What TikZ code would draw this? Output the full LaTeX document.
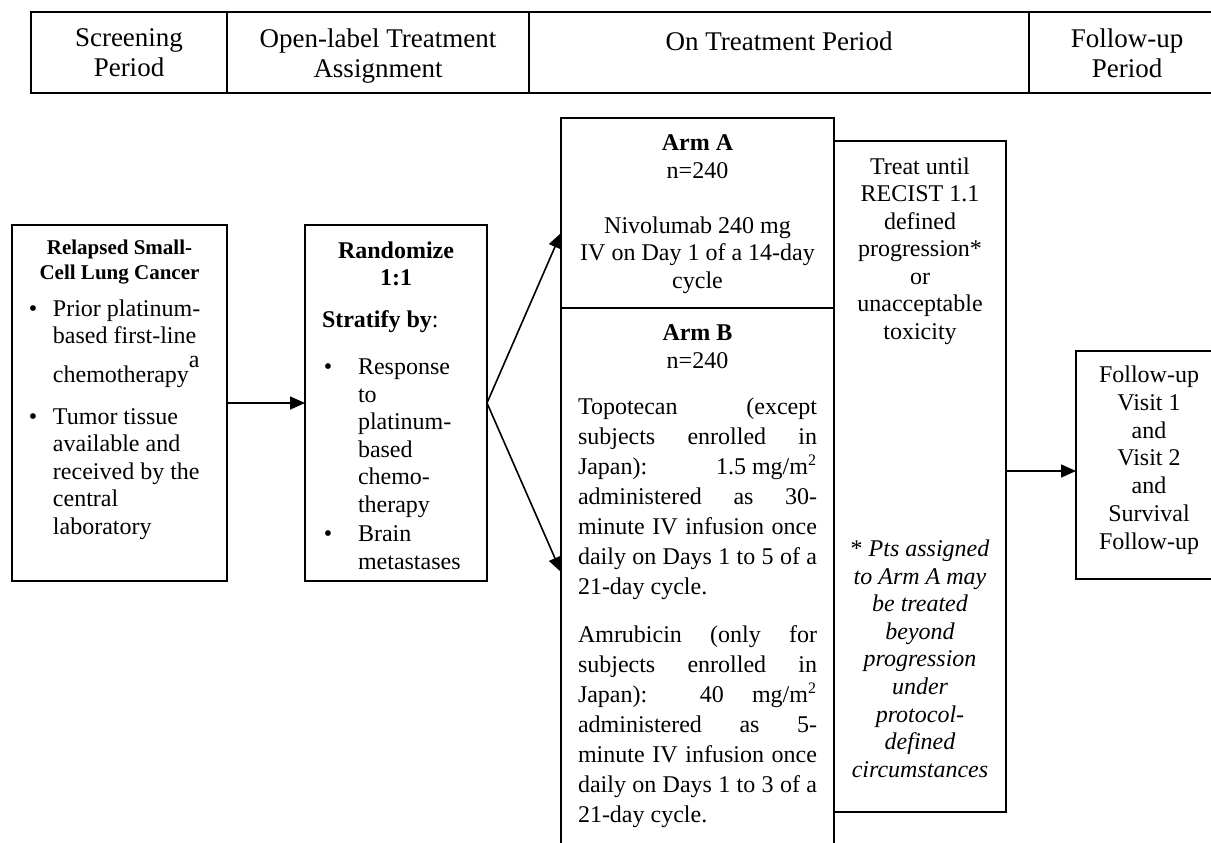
\documentclass[tikz,border=0pt]{standalone}
\usepackage{fontspec}
\setmainfont{Liberation Serif}
\usetikzlibrary{arrows.meta,fit,calc}
\newcommand\mybul{\llap{\textbullet\hspace{7.9pt}}}
\newcommand\stbul{\hspace*{18pt}\llap{\textbullet\hspace{12.9pt}}}
\newcommand\ind{\hspace*{18pt}}
\newcommand\jl[1]{\makebox[119.5pt][s]{#1}}
\tikzset{
  box/.style={draw, line width=1pt, inner sep=0pt, outer sep=0pt},
  arr/.style={line width=0.8pt, -{Triangle[length=7.5pt,width=6.5pt]}},
  txt/.style={inner sep=0pt, outer sep=0pt, anchor=north, align=center, yshift=-2pt,
    font=\fontsize{12}{13.75}\selectfont, execute at begin node={\strut}},
  hdtxt/.style={txt, font=\fontsize{13.5}{15}\selectfont},
}
\begin{document}
\begin{tikzpicture}[x=0.5pt,y=-0.5pt]
\useasboundingbox (0,0) rectangle (1211,842);
\fill[white] (0,0) rectangle (1211,842);
\clip (0,0) rectangle (1211,842);

% header table
\node[box, fit={(31,12)(1226,93)}] (hdr) {};
\draw[line width=1pt] ($(hdr.north west)+(196,0)$) -- ($(hdr.south west)+(196,0)$);
\draw[line width=1pt] ($(hdr.north west)+(498,0)$) -- ($(hdr.south west)+(498,0)$);
\draw[line width=1pt] ($(hdr.north west)+(997.5,0)$) -- ($(hdr.south west)+(997.5,0)$);
\node[hdtxt] (h1) at (129,25) {Screening\\Period};
\node[hdtxt] (h2) at (378,25) {Open-label Treatment\\Assignment};
\node[hdtxt] (h3) at (779,25) {On Treatment Period};
\node[hdtxt] (h4) at (1127,25) {Follow-up\\Period};

% boxes
\node[box, fit={(12,225)(227,581)}] (rel) {};
\node[box, fit={(305,225)(487,581)}] (rand) {};
\node[box, fit={(561,118)(834,308)}] (armA) {};
\node[box, fit={(561,308)(834,880)}] (armB) {};
\node[box, fit={(834,141)(1006,812)}] (treat) {};
\node[box, fit={(1076,351)(1222,579)}] (fu) {};

% relapsed
\node[txt, font=\bfseries\fontsize{10.5}{12.5}\selectfont] (reltitle) at (119.5,235.5)
  {Relapsed Small-\\Cell Lung Cancer};
\node[txt, anchor=north west, align=left] (relitems) at (53,295.75)
  {\mybul Prior platinum-\\based first-line\\[5.5pt]chemotherapy\smash{\raisebox{7.5pt}{a}}\\[7.25pt]\mybul Tumor tissue\\available and\\received by the\\central\\laboratory};

% randomize
\node[txt, font=\bfseries\fontsize{12}{13.75}\selectfont] (randtitle) at (396,237.75)
  {Randomize\\1:1};
\node[txt, anchor=north west, align=left] (strat) at (322,306.75)
  {\textbf{Stratify by}:\\[9.75pt]\stbul Response\\\ind to\\\ind platinum-\\\ind based\\\ind chemo-\\\ind therapy\\[1pt]\stbul Brain\\\ind metastases};

% arm A
\node[txt] (armAtxt) at (697.5,130.75)
  {\textbf{Arm A}\\n=240\\[13.75pt]Nivolumab 240 mg\\IV on Day 1 of a 14-day\\cycle};

% arm B
\node[txt, font=\fontsize{12}{14}\selectfont] (armBhd) at (697.5,320.4)
  {\textbf{Arm B}\\n=240};
\node[txt, anchor=north west, align=left, font=\fontsize{12}{15}\selectfont] (armBtxt) at (578,394)
  {\jl{Topotecan (except}\\\jl{subjects enrolled in}\\\jl{Japan): \mbox{1.5 mg/m\textsuperscript{2}}}\\\jl{administered as 30-}\\\jl{minute IV infusion once}\\\jl{daily on Days 1 to 5 of a}\\21-day cycle.\\[9pt]\jl{Amrubicin (only for}\\\jl{subjects enrolled in}\\\jl{Japan): 40 mg/m\textsuperscript{2}}\\\jl{administered as 5-}\\\jl{minute IV infusion once}\\\jl{daily on Days 1 to 3 of a}\\21-day cycle.};

% treat
\node[txt] (treattxt) at (920,153.75)
  {Treat until\\RECIST 1.1\\defined\\progression*\\or\\unacceptable\\toxicity};
\node[txt, font=\itshape\fontsize{12}{13.8}\selectfont] (note) at (920,535.75)
  {{\upshape *} Pts assigned\\to Arm A may\\be treated\\beyond\\progression\\under\\protocol-\\defined\\circumstances};

% follow-up
\node[txt, font=\fontsize{12}{13.9}\selectfont] (futxt) at (1149,361.75)
  {Follow-up\\Visit 1\\and\\Visit 2\\and\\Survival\\Follow-up};

% connectors
\draw[arr] (rel.east) -- (rand.west);
\draw[arr] (rand.east) -- ($(armA.north west)+(0,115)$);
\draw[arr] (rand.east) -- ($(armB.north west)+(0,264)$);
\draw[arr] ($(treat.north east)+(0,330)$) -- ($(fu.north west)+(0,120)$);
\end{tikzpicture}
\end{document}
